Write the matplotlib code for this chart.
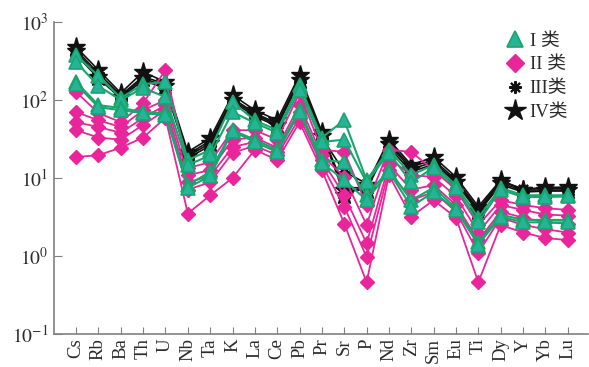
import matplotlib
matplotlib.use("Agg")
import matplotlib.pyplot as plt
from matplotlib.lines import Line2D

plt.rcParams['mathtext.fontset'] = 'stix'
plt.rcParams['font.family'] = ['Liberation Serif', 'Noto Sans CJK SC']

# element order of the spider diagram
elements = ['Cs', 'Rb', 'Ba', 'Th', 'U', 'Nb', 'Ta', 'K', 'La', 'Ce', 'Pb', 'Pr',
            'Sr', 'P', 'Nd', 'Zr', 'Sm', 'Eu', 'Ti', 'Dy', 'Y', 'Yb', 'Lu']

# class I samples
type1 = [
    [377, 203, 106, 160, 170, 17, 22.9, 94, 55, 41, 156, 33, 55, 9.4, 23, 10.9, 14.7, 8.1, 3.1, 7.5, 6.0, 6.0, 6.0],
    [307, 151, 100, 143, 109, 14.7, 19.5, 70, 51, 38, 134, 29, 31, 8.8, 21, 8.8, 13.6, 7.5, 2.7, 7.1, 5.7, 5.7, 5.8],
    [170, 86, 79, 70, 68, 8.1, 12, 41, 31, 23, 74, 17, 16, 6.0, 12.6, 5.2, 7.5, 4.1, 1.5, 3.4, 2.9, 2.9, 2.9],
    [160, 81, 74, 68, 64, 7.5, 10.6, 40, 29, 21.6, 70, 15.6, 9.4, 5.2, 12, 4.3, 6.6, 3.9, 1.4, 3.2, 2.7, 2.7, 2.7],
]

# class II samples
type2 = [
    [127, 68, 52, 91, 242, 13.4, 16, 41, 41, 31, 123, 23, 21.6, 4.5, 23, 21.6, 12.6, 7.1, 2.5, 5.2, 4.5, 4.1, 3.9],
    [70, 55, 45, 74, 100, 10.9, 12.6, 31, 33, 24.5, 86, 19.6, 10.3, 2.5, 18, 10.9, 10.3, 5.8, 2.0, 4.5, 3.9, 3.4, 3.3],
    [52, 45, 38, 59, 86, 8.8, 10.6, 25, 29, 21.6, 70, 17, 6.0, 1.45, 14.7, 7.1, 8.1, 4.5, 1.6, 3.7, 3.1, 2.7, 2.6],
    [41, 33, 31, 48, 74, 7.1, 8.8, 21, 26, 19.6, 59, 14.7, 4.3, 0.97, 12.6, 5.2, 6.6, 3.7, 1.1, 3.1, 2.5, 2.2, 2.0],
    [18.6, 19.6, 24.5, 33, 59, 3.5, 6.0, 10, 23, 17, 52, 12.6, 2.6, 0.46, 10.9, 3.2, 5.2, 3.1, 0.46, 2.5, 2.0, 1.7, 1.6],
]

# class III samples
type3 = [
    [440, 220, 115, 200, 160, 20, 30, 105, 68, 50, 190, 37, 7.5, 7.5, 28, 14, 17, 9.5, 4.0, 9.0, 7.3, 7.3, 7.3],
    [380, 190, 105, 180, 140, 18, 26, 95, 62, 46, 170, 33, 12, 8.5, 25, 12, 15, 8.7, 3.6, 8.2, 6.6, 6.8, 6.8],
]

# class IV samples
type4 = [
    [478, 242, 123, 229, 170, 21.6, 32.5, 116, 74, 55, 209, 39, 6.0, 8.1, 31, 14.7, 18.6, 10.3, 4.3, 9.4, 7.1, 7.6, 7.6],
    [420, 200, 110, 190, 150, 19, 28, 100, 65, 48, 180, 35, 7.0, 7.0, 27, 13, 16, 9.0, 3.8, 8.5, 7.0, 7.0, 7.0],
]

labels = ['I 类', 'II 类', 'III类', 'IV类']

green_line = '#17a66e'
green_face = '#25b49a'
pink = '#e8259a'
black = '#111111'
text_col = '#2b2b2b'

fig = plt.figure(figsize=(5.89, 3.67), dpi=100)
ax = fig.add_axes([0.092, 0.09, 0.906, 0.85])
x = list(range(len(elements)))

for row in type4:
    ax.plot(x, row, color=black, lw=1.2, marker='*', ms=14, mfc=black, mec=black, zorder=2)
for row in type3:
    ax.plot(x, row, color=black, lw=1.2, marker=(8, 2, 0), ms=9, mec=black, mew=1.5, zorder=2)
for row in type2:
    ax.plot(x, row, color=pink, lw=1.3, marker='D', ms=7, mfc=pink, mec=pink, zorder=3)
for row in type1:
    ax.plot(x, row, color=green_line, lw=1.5, marker='^', ms=10, mfc=green_face, mec=green_line,
            mew=1.2, zorder=4)

ax.set_yscale('log')
ax.set_ylim(0.1, 1000)
ax.set_xlim(-0.98, 22.9)

ax.set_xticks(x)
ax.set_xticklabels(elements, rotation=90, fontsize=13.5, color=text_col)
ax.set_yticks([0.1, 1, 10, 100, 1000])
ax.set_yticklabels(['$10^{-1}$', '$10^{0}$', '$10^{1}$', '$10^{2}$', '$10^{3}$'], fontsize=14,
                   color=text_col)
ax.minorticks_off()
ax.tick_params(axis='x', direction='in', length=5, color='#808080', pad=3)
ax.tick_params(axis='y', direction='in', length=6, color='#808080', pad=4)

for side in ['top', 'right']:
    ax.spines[side].set_visible(False)
for side in ['left', 'bottom']:
    ax.spines[side].set_color('#808080')
    ax.spines[side].set_linewidth(1.2)

handles = [
    Line2D([], [], ls='none', marker='^', ms=11, mfc=green_face, mec=green_line, mew=1.2),
    Line2D([], [], ls='none', marker='D', ms=9, mfc=pink, mec=pink),
    Line2D([], [], ls='none', marker=(8, 2, 0), ms=9, mec=black, mew=1.5),
    Line2D([], [], ls='none', marker='*', ms=16, mfc=black, mec=black),
]
leg = ax.legend(handles, labels, loc='upper right', bbox_to_anchor=(0.995, 1.02), frameon=False,
                handlelength=1.0, handletextpad=0.3, labelspacing=0.35,
                prop={'family': ['Liberation Serif', 'Noto Sans CJK SC'], 'size': 13.5})
for t in leg.get_texts():
    t.set_color(text_col)

fig.savefig('out.png', dpi=100)
